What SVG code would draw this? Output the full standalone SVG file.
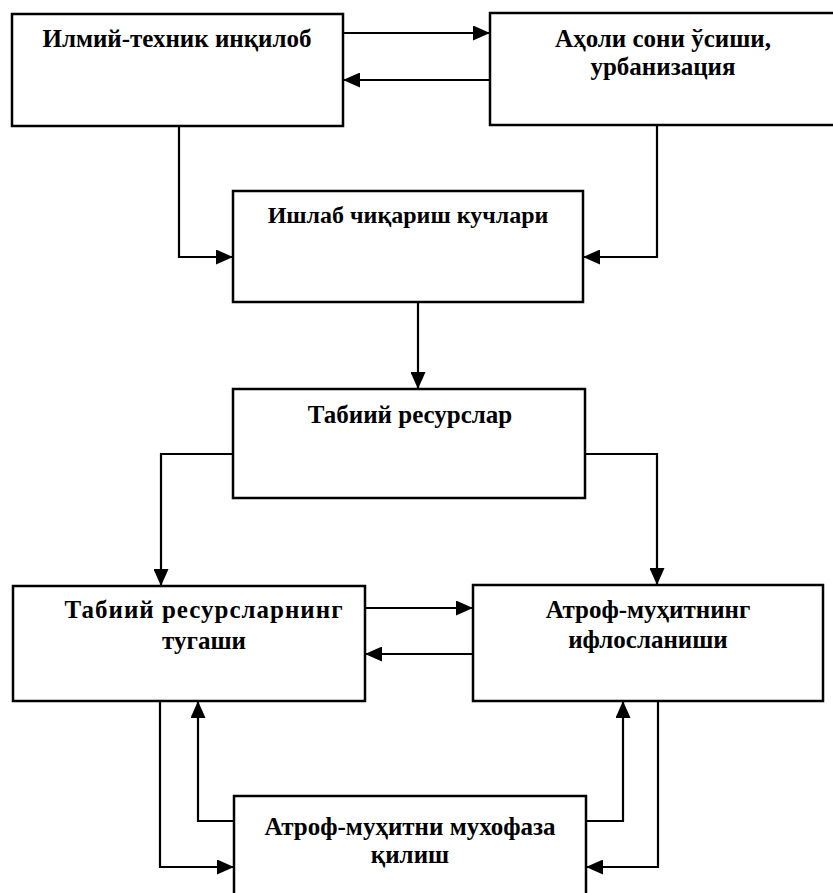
<svg xmlns="http://www.w3.org/2000/svg" width="833" height="893" viewBox="0 0 833 893">
  <style>
    .box { fill: #ffffff; stroke: #000000; stroke-width: 2.5; }
    .lbl { font-family: "Liberation Serif", "Times New Roman", serif; font-size: 25px; font-weight: bold; fill: #000000; text-anchor: middle; }
    .narrow { font-size: 24px; }
    .wide { letter-spacing: 1px; }
    .wire { fill: none; stroke: #000000; stroke-width: 2.2; }
  </style>
  <defs>
    <marker id="head" viewBox="0 0 17 15" refX="17" refY="7.5" markerWidth="17" markerHeight="15" markerUnits="userSpaceOnUse" orient="auto">
      <path d="M0,0 L17,7.5 L0,15 Z" fill="#000000"/>
    </marker>
  </defs>

  <rect width="833" height="893" fill="#ffffff"/>

  <g id="connectors">
    <!-- top pair -->
    <path class="wire" d="M343,33 H490" marker-end="url(#head)"/>
    <path class="wire" d="M490,80 H343" marker-end="url(#head)"/>
    <!-- into production forces -->
    <path class="wire" d="M179,126 V257 H233" marker-end="url(#head)"/>
    <path class="wire" d="M657,125 V257 H583" marker-end="url(#head)"/>
    <!-- production forces to natural resources -->
    <path class="wire" d="M418,302 V389" marker-end="url(#head)"/>
    <!-- natural resources to the two outcomes -->
    <path class="wire" d="M233,454 H161 V586" marker-end="url(#head)"/>
    <path class="wire" d="M585,454 H657 V585" marker-end="url(#head)"/>
    <!-- middle pair -->
    <path class="wire" d="M365,608 H473" marker-end="url(#head)"/>
    <path class="wire" d="M473,654 H365" marker-end="url(#head)"/>
    <!-- loops with protection box -->
    <path class="wire" d="M160,701 V867 H234" marker-end="url(#head)"/>
    <path class="wire" d="M234,821 H198 V701" marker-end="url(#head)"/>
    <path class="wire" d="M586,821 H623 V701" marker-end="url(#head)"/>
    <path class="wire" d="M658,701 V867 H586" marker-end="url(#head)"/>
  </g>

  <g id="n-revolution">
    <rect class="box" x="12" y="14" width="331" height="112"/>
    <text class="lbl" x="177" y="47">Илмий-техник инқилоб</text>
  </g>

  <g id="n-population">
    <rect class="box" x="490" y="13" width="350" height="112"/>
    <text class="lbl" x="663" y="47">Аҳоли сони ўсиши,</text>
    <text class="lbl" x="663" y="75">урбанизация</text>
  </g>

  <g id="n-production">
    <rect class="box" x="233" y="191" width="350" height="111"/>
    <text class="lbl narrow" x="408" y="223">Ишлаб чиқариш кучлари</text>
  </g>

  <g id="n-resources">
    <rect class="box" x="233" y="389" width="352" height="109"/>
    <text class="lbl" x="410" y="423">Табиий ресурслар</text>
  </g>

  <g id="n-depletion">
    <rect class="box" x="13" y="586" width="352" height="115"/>
    <text class="lbl wide" x="204" y="618">Табиий ресурсларнинг</text>
    <text class="lbl" x="204" y="649">тугаши</text>
  </g>

  <g id="n-pollution">
    <rect class="box" x="473" y="585" width="350" height="116"/>
    <text class="lbl" x="648" y="618">Атроф-муҳитнинг</text>
    <text class="lbl" x="648" y="648">ифлосланиши</text>
  </g>

  <g id="n-protection">
    <rect class="box" x="234" y="796" width="352" height="110"/>
    <text class="lbl" x="410" y="835">Атроф-муҳитни мухофаза</text>
    <text class="lbl" x="410" y="863">қилиш</text>
  </g>
</svg>
